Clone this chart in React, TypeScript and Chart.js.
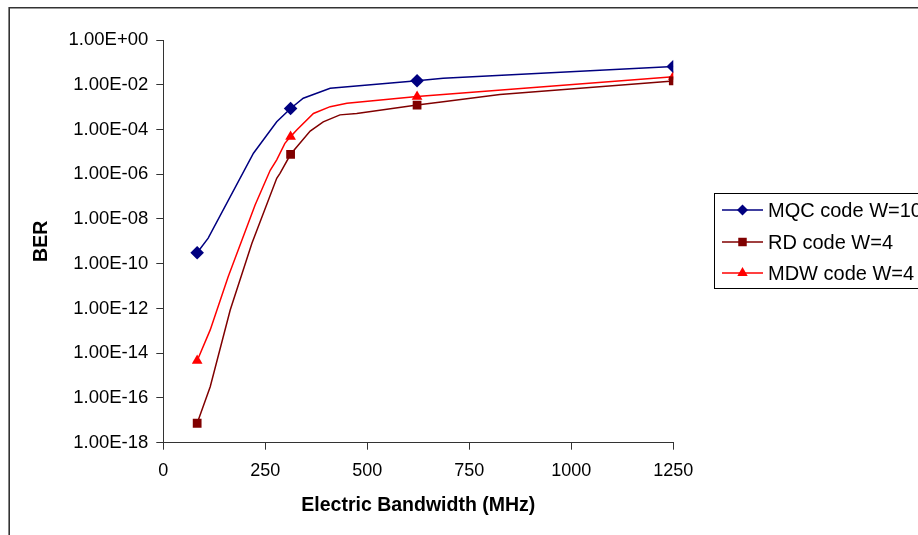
import React, { useEffect, useRef } from "react";
import { Chart, registerables } from "chart.js";

Chart.register(...registerables);

// ---- data ----
const seriesLabels = ["MQC code W=10", "RD code W=4", "MDW code W=4"];
const seriesColors = ["#000080", "#800000", "#FF0000"];
const seriesMarkers = ["rectRot", "rect", "triangle"];

const markerBandwidths = [83, 312, 622, 1250];

const bandwidthMQC = [83, 110, 221, 278, 312, 343, 409, 622, 686, 1250];
const berMQC = [3.1e-10, 1.4e-9, 8.7e-6, 2.2e-4, 8.7e-4, 2.5e-3, 6.9e-3, 1.5e-2, 1.95e-2, 6.5e-2];

const bandwidthRD = [83, 115, 164, 217, 278, 286, 312, 360, 392, 433, 474, 622, 686, 825, 1250];
const berRD = [7.4e-18, 3.2e-16, 8.5e-13, 8.1e-10, 6.6e-7, 1.1e-6, 7.8e-6, 8.5e-5, 2.2e-4, 4.5e-4, 5.2e-4, 1.23e-3, 1.74e-3, 3.7e-3, 1.48e-2];

const bandwidthMDW = [83, 115, 159, 225, 262, 278, 298, 312, 327, 368, 409, 450, 622, 1250];
const berMDW = [4.6e-15, 1.1e-13, 2.6e-11, 4.2e-8, 1.5e-6, 4.4e-6, 2.4e-5, 4.8e-5, 9.5e-5, 5.2e-4, 1.05e-3, 1.5e-3, 2.95e-3, 2.3e-2];

const yTickValues = [1e0, 1e-2, 1e-4, 1e-6, 1e-8, 1e-10, 1e-12, 1e-14, 1e-16, 1e-18];
const xTickValues = [0, 250, 500, 750, 1000, 1250];

const xTitle = "Electric Bandwidth (MHz)";
const yTitle = "BER";

const FONT = "'Liberation Sans', Arial, sans-serif";

function formatBER(v: number): string {
  const e = Math.round(Math.log10(v));
  const sign = e >= 0 ? "+" : "-";
  return "1.00E" + sign + String(Math.abs(e)).padStart(2, "0");
}

function zip(xs: number[], ys: number[]) {
  return xs.map((x, i) => ({ x, y: ys[i] }));
}

const chartMarkerRadius: Record<string, number> = { rectRot: 6.8, rect: 6.2, triangle: 6.2 };
const legendMarkerRadius: Record<string, number> = { rectRot: 5.5, rect: 6, triangle: 6 };

function drawMarker(ctx: CanvasRenderingContext2D, style: string, x: number, y: number, r: number, color: string) {
  ctx.save();
  ctx.fillStyle = color;
  ctx.beginPath();
  if (style === "rectRot") {
    ctx.moveTo(x, y - r);
    ctx.lineTo(x + r, y);
    ctx.lineTo(x, y + r);
    ctx.lineTo(x - r, y);
  } else if (style === "rect") {
    const s = Math.SQRT1_2 * r;
    ctx.rect(x - s, y - s, 2 * s, 2 * s);
  } else {
    const a = (2 * Math.PI) / 3;
    for (let i = 0; i < 3; i++) {
      const ang = i * a;
      const px = x + Math.sin(ang) * r;
      const py = y - Math.cos(ang) * r;
      if (i === 0) ctx.moveTo(px, py);
      else ctx.lineTo(px, py);
    }
  }
  ctx.closePath();
  ctx.fill();
  ctx.restore();
}

const framePlugin = {
  id: "frame",
  beforeDraw(chart: any) {
    const ctx = chart.ctx as CanvasRenderingContext2D;
    ctx.save();
    ctx.fillStyle = "#ffffff";
    ctx.fillRect(0, 0, chart.width, chart.height);
    ctx.strokeStyle = "#333333";
    ctx.lineWidth = 1.6;
    ctx.beginPath();
    ctx.moveTo(9.2, chart.height + 2);
    ctx.lineTo(9.2, 7.8);
    ctx.lineTo(chart.width + 2, 7.8);
    ctx.stroke();
    ctx.restore();
  },
};

const legendPlugin = {
  id: "boxLegend",
  afterDraw(chart: any) {
    const ctx = chart.ctx as CanvasRenderingContext2D;
    const left = 714.5;
    const top = 193.5;
    const h = 95;
    ctx.save();
    ctx.strokeStyle = "#000000";
    ctx.lineWidth = 1;
    ctx.strokeRect(left, top, 260, h);
    const rowY = [210, 242, 273];
    chart.data.datasets.forEach((ds: any, i: number) => {
      const y = rowY[i];
      ctx.strokeStyle = ds.borderColor;
      ctx.lineWidth = 1.5;
      ctx.beginPath();
      ctx.moveTo(722, y);
      ctx.lineTo(763, y);
      ctx.stroke();
      drawMarker(ctx, ds.pointStyle, 742.5, y, legendMarkerRadius[ds.pointStyle], ds.borderColor);
      ctx.fillStyle = "#000000";
      ctx.font = `20px ${FONT}`;
      ctx.textBaseline = "middle";
      ctx.textAlign = "left";
      ctx.fillText(ds.label, 768, y + 1);
    });
    ctx.restore();
  },
};

export default function App() {
  const canvasRef = useRef<HTMLCanvasElement | null>(null);

  useEffect(() => {
    document.body.style.margin = "0";
    document.body.style.overflow = "hidden";
    const canvas = canvasRef.current;
    if (!canvas) return;

    const xs = [bandwidthMQC, bandwidthRD, bandwidthMDW];
    const ys = [berMQC, berRD, berMDW];

    const datasets = seriesLabels.map((label, i) => ({
      label,
      data: zip(xs[i], ys[i]),
      borderColor: seriesColors[i],
      backgroundColor: seriesColors[i],
      pointBackgroundColor: seriesColors[i],
      pointBorderColor: seriesColors[i],
      pointBorderWidth: 0,
      pointStyle: seriesMarkers[i],
      pointRadius: (c: any) =>
        c.raw && markerBandwidths.includes(c.raw.x) ? chartMarkerRadius[seriesMarkers[i]] : 0,
      borderWidth: 1.5,
      tension: 0,
      fill: false,
    }));

    const chart = new Chart(canvas, {
      type: "line",
      data: { datasets },
      plugins: [framePlugin, legendPlugin],
      options: {
        responsive: false,
        animation: false,
        events: [],
        layout: { padding: { left: 0, top: 40, right: 244.7, bottom: 0 } },
        plugins: {
          legend: { display: false },
          tooltip: { enabled: false },
        },
        scales: {
          x: {
            type: "linear",
            min: 0,
            max: 1250,
            afterFit: (s: any) => {
              s.height = 92.3;
            },
            afterBuildTicks: (s: any) => {
              s.ticks = xTickValues.map((v) => ({ value: v }));
            },
            ticks: {
              autoSkip: false,
              maxRotation: 0,
              color: "#000000",
              padding: 11,
              font: { family: FONT, size: 18, lineHeight: 1.2 },
              callback: (v: any) => String(v),
            },
            grid: {
              display: true,
              drawOnChartArea: false,
              drawTicks: true,
              tickLength: 7,
              color: "#333333",
            },
            border: { display: true, color: "#333333", width: 1 },
            title: {
              display: true,
              text: xTitle,
              color: "#000000",
              font: { family: FONT, size: 19.5, weight: "bold", lineHeight: 1.2 },
              padding: { top: 0, bottom: 17.3 },
            },
          },
          y: {
            type: "logarithmic",
            min: 1e-18,
            max: 1,
            afterFit: (s: any) => {
              s.width = 163.3;
            },
            afterBuildTicks: (s: any) => {
              s.ticks = yTickValues.map((v) => ({ value: v }));
            },
            ticks: {
              autoSkip: false,
              color: "#000000",
              padding: 8,
              font: { family: FONT, size: 18.5, lineHeight: 1.2 },
              callback: (v: any) => formatBER(Number(v)),
            },
            grid: {
              display: true,
              drawOnChartArea: false,
              drawTicks: true,
              tickLength: 7,
              color: "#333333",
            },
            border: { display: true, color: "#333333", width: 1 },
            title: {
              display: true,
              text: yTitle,
              color: "#000000",
              font: { family: FONT, size: 19.5, weight: "bold", lineHeight: 1.2 },
              padding: { top: 30, bottom: 0 },
            },
          },
        },
      } as any,
    });

    return () => {
      chart.destroy();
    };
  }, []);

  return (
    <div style={{ width: 918, height: 535, position: "relative" }}>
      <canvas ref={canvasRef} width={918} height={535} style={{ width: 918, height: 535, display: "block" }} />
    </div>
  );
}
